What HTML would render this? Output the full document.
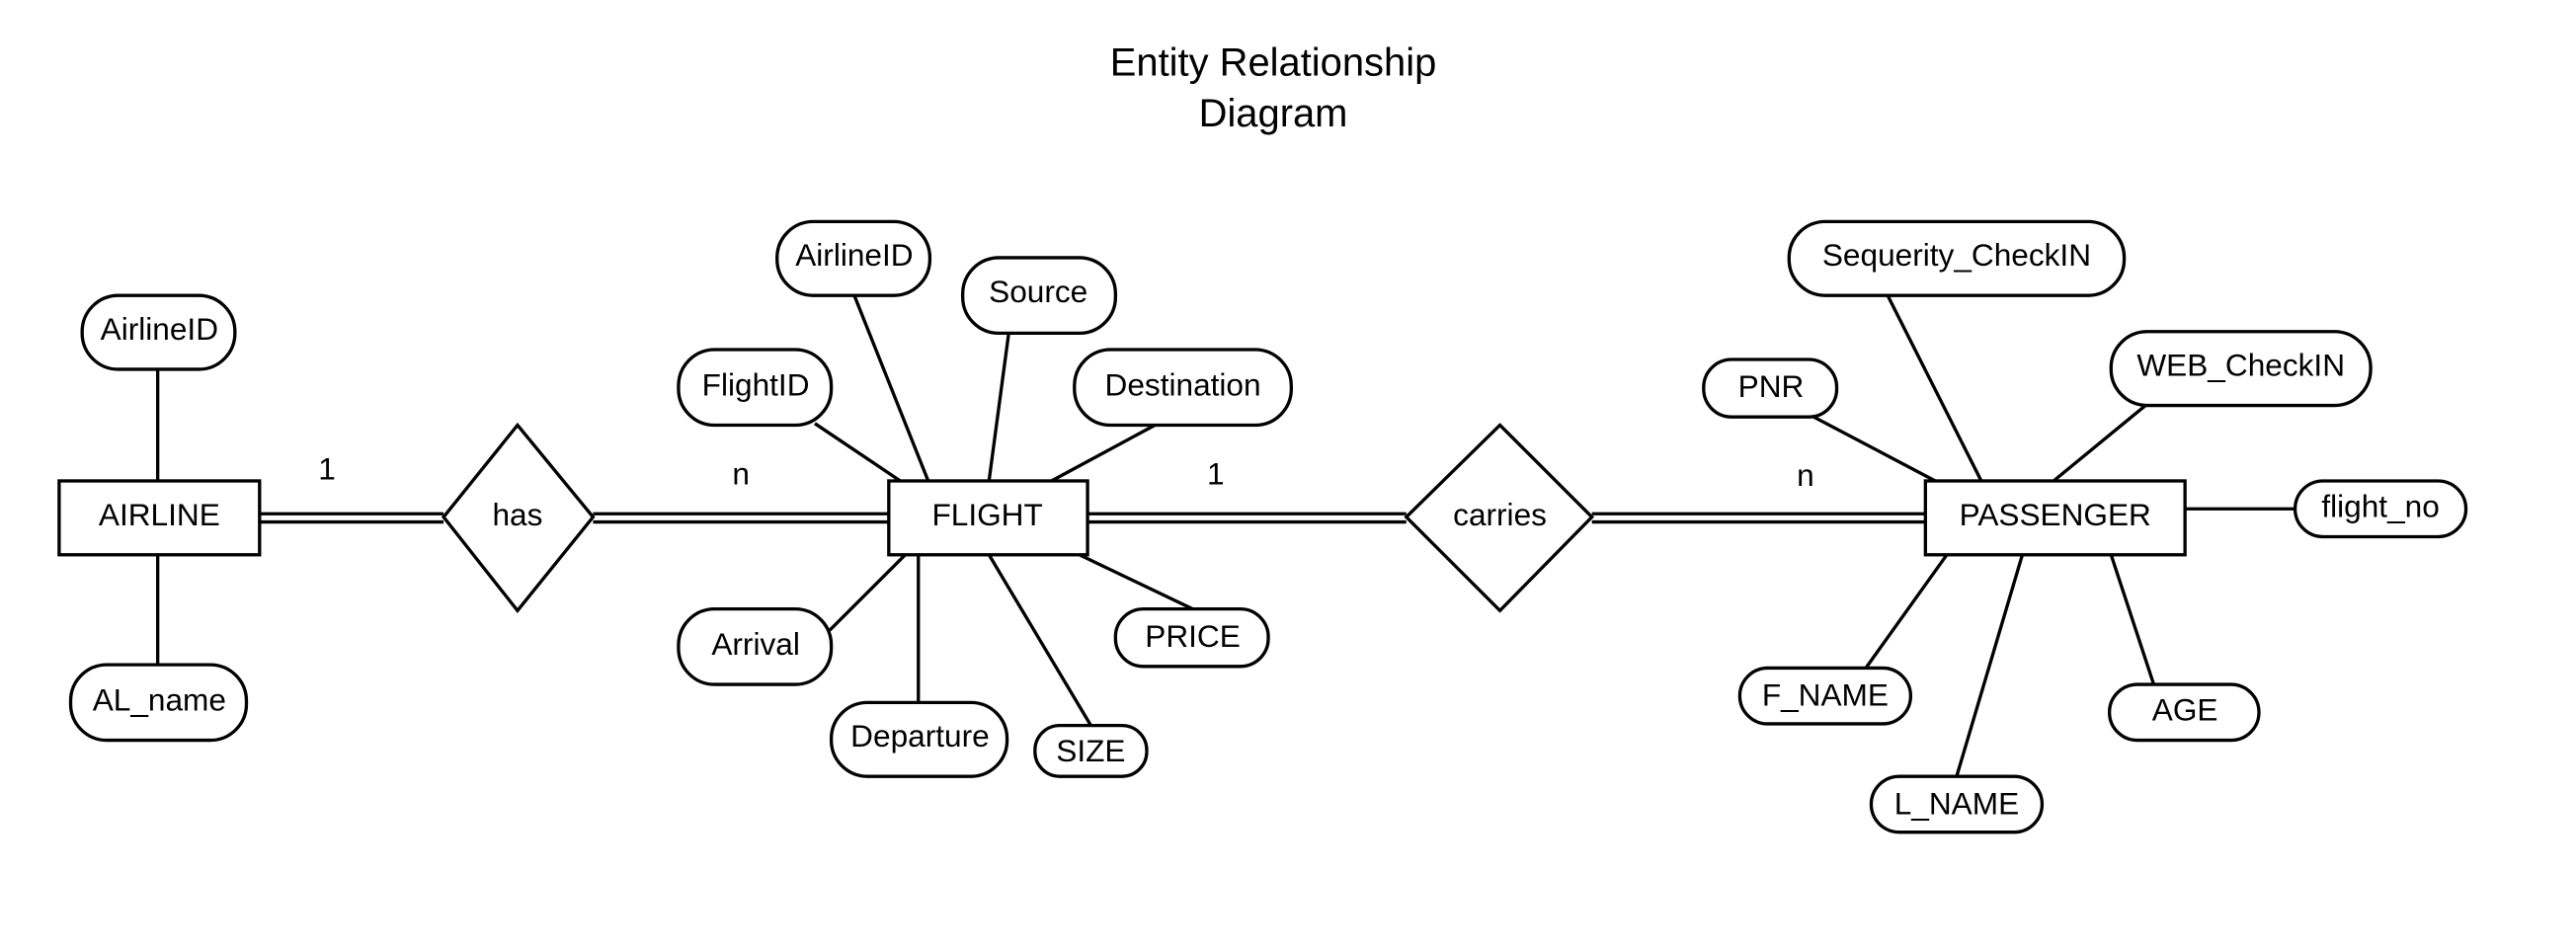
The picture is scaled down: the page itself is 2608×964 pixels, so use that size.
<!DOCTYPE html>
<html><head><meta charset="utf-8"><style>
html,body{margin:0;padding:0;background:#fff;}
svg{display:block;}
text{font-family:"Liberation Sans",sans-serif;fill:#000;}
</style></head><body>
<svg width="2608" height="964" viewBox="0 0 1568 580" preserveAspectRatio="none" xmlns="http://www.w3.org/2000/svg">
<rect width="1568" height="580" fill="#fff"/>
<g font-size="24" text-anchor="middle">
<text x="775" y="46">Entity Relationship</text>
<text x="775" y="77">Diagram</text>
</g>
<g stroke="#000" stroke-width="2" fill="none">
<line x1="96" y1="225" x2="96" y2="293"/>
<line x1="96" y1="338" x2="96" y2="405"/>
<line x1="158" y1="313" x2="270" y2="313"/><line x1="158" y1="318" x2="270" y2="318"/>
<line x1="361" y1="313" x2="541" y2="313"/><line x1="361" y1="318" x2="541" y2="318"/>
<line x1="662" y1="313" x2="856" y2="313"/><line x1="662" y1="318" x2="856" y2="318"/>
<line x1="969" y1="313" x2="1172" y2="313"/><line x1="969" y1="318" x2="1172" y2="318"/>
<line x1="496" y1="258" x2="548" y2="293"/>
<line x1="520" y1="180" x2="565" y2="293"/>
<line x1="614" y1="203" x2="602" y2="293"/>
<line x1="703" y1="259" x2="640" y2="293"/>
<line x1="505" y1="384" x2="551" y2="338"/>
<line x1="559" y1="338" x2="559" y2="428"/>
<line x1="664" y1="442" x2="602" y2="338"/>
<line x1="728" y1="372" x2="657" y2="338"/>
<line x1="1104" y1="254" x2="1178" y2="293"/>
<line x1="1149" y1="180" x2="1206" y2="293"/>
<line x1="1306" y1="247" x2="1250" y2="293"/>
<line x1="1330" y1="310" x2="1397" y2="310"/>
<line x1="1135" y1="408" x2="1185" y2="338"/>
<line x1="1191" y1="473" x2="1231" y2="338"/>
<line x1="1311" y1="417" x2="1285" y2="338"/>
<rect x="36" y="293" width="122" height="45" fill="#fff"/>
<rect x="541" y="293" width="121" height="45" fill="#fff"/>
<rect x="1172" y="293" width="158" height="45" fill="#fff"/>
<polygon points="315,259 361,315 315,372 270,315" fill="#fff"/>
<polygon points="913,259 969,315 913,372 856,315" fill="#fff"/>
<rect x="50" y="180" width="93" height="45" rx="22" fill="#fff"/>
<rect x="43" y="405" width="107" height="46" rx="22" fill="#fff"/>
<rect x="473" y="135" width="93" height="45" rx="22" fill="#fff"/>
<rect x="586" y="157" width="93" height="46" rx="22" fill="#fff"/>
<rect x="413" y="213" width="93" height="46" rx="22" fill="#fff"/>
<rect x="654" y="213" width="132" height="46" rx="22" fill="#fff"/>
<rect x="413" y="371" width="93" height="46" rx="22" fill="#fff"/>
<rect x="506" y="428" width="107" height="45" rx="22" fill="#fff"/>
<rect x="630" y="442" width="68" height="31" rx="15" fill="#fff"/>
<rect x="679" y="371" width="93" height="35" rx="17" fill="#fff"/>
<rect x="1089" y="135" width="204" height="45" rx="22" fill="#fff"/>
<rect x="1037" y="219" width="81" height="35" rx="17" fill="#fff"/>
<rect x="1285" y="202" width="158" height="45" rx="22" fill="#fff"/>
<rect x="1397" y="293" width="104" height="34" rx="17" fill="#fff"/>
<rect x="1059" y="407" width="104" height="34" rx="17" fill="#fff"/>
<rect x="1139" y="473" width="104" height="34" rx="17" fill="#fff"/>
<rect x="1284" y="417" width="91" height="34" rx="17" fill="#fff"/>
</g>
<g font-size="19" text-anchor="middle">
<text x="97" y="320">AIRLINE</text>
<text x="601" y="320">FLIGHT</text>
<text x="1251" y="320">PASSENGER</text>
<text x="315" y="320">has</text>
<text x="913" y="320">carries</text>
<text x="199" y="292">1</text>
<text x="451" y="295">n</text>
<text x="740" y="295">1</text>
<text x="1099" y="296">n</text>
<text x="97" y="207">AirlineID</text>
<text x="97" y="433">AL_name</text>
<text x="520" y="162">AirlineID</text>
<text x="632" y="184">Source</text>
<text x="460" y="241">FlightID</text>
<text x="720" y="241">Destination</text>
<text x="460" y="399">Arrival</text>
<text x="560" y="455">Departure</text>
<text x="664" y="464">SIZE</text>
<text x="726" y="394">PRICE</text>
<text x="1191" y="162">Sequerity_CheckIN</text>
<text x="1078" y="242">PNR</text>
<text x="1364" y="229">WEB_CheckIN</text>
<text x="1449" y="315">flight_no</text>
<text x="1111" y="430">F_NAME</text>
<text x="1191" y="496">L_NAME</text>
<text x="1330" y="439">AGE</text>
</g>
</svg>
</body></html>
